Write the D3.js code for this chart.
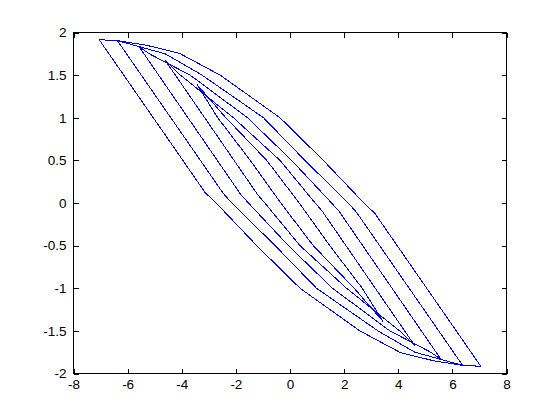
<!DOCTYPE html>
<html>
<head>
<meta charset="utf-8">
<script src="https://cdn.jsdelivr.net/npm/d3@7"></script>
<style>
  html, body { margin: 0; padding: 0; background: #fff; }
  svg { display: block; }
  .tick text { font-family: "Liberation Sans", Arial, sans-serif; font-size: 13.5px; fill: #000; }
</style>
</head>
<body>
<svg id="chart" width="560" height="420"></svg>
<script>
// Tick values
const xTicks = [-8, -6, -4, -2, 0, 2, 4, 6, 8];
const yTicks = [-2, -1.5, -1, -0.5, 0, 0.5, 1, 1.5, 2];

// Loop 1 (outermost)
const loop1Upper = [[-7.05,1.915],[-6.38,1.905],[-5.3,1.85],[-4.08,1.755],[-2.58,1.5],[-0.37,1.0],[1.23,0.5],[2.73,0],[3.13,-0.12],[7.05,-1.915]];
const loop1Lower = [[-7.05,1.915],[-3.13,0.12],[-2.73,0],[-1.23,-0.5],[0.37,-1.0],[2.58,-1.5],[4.08,-1.755],[5.3,-1.85],[6.38,-1.905],[7.05,-1.915]];
// Loop 2
const loop2Upper = [[-6.38,1.905],[-4.61,1.75],[-3.25,1.5],[-0.98,1.0],[0.55,0.5],[2.15,0],[2.46,-0.11],[6.38,-1.905]];
const loop2Lower = [[-6.38,1.905],[-2.46,0.11],[-2.15,0],[-0.55,-0.5],[0.98,-1.0],[3.25,-1.5],[4.61,-1.75],[6.38,-1.905]];
// Loop 3
const loop3Upper = [[-5.58,1.835],[-5.2,1.75],[-3.69,1.5],[-1.57,1.0],[0.06,0.5],[1.535,0],[1.82,-0.1],[5.58,-1.835]];
const loop3Lower = [[-5.58,1.835],[-1.82,0.1],[-1.535,0],[-0.06,-0.5],[1.57,-1.0],[3.69,-1.5],[5.2,-1.75],[5.58,-1.835]];
// Loop 4
const loop4Upper = [[-4.62,1.677],[-4.05,1.5],[-2.09,1.0],[-0.37,0.5],[0.93,0],[1.2,-0.1],[4.62,-1.677]];
const loop4Lower = [[-4.62,1.677],[-1.2,0.1],[-0.93,0],[0.37,-0.5],[2.09,-1.0],[4.05,-1.5],[4.62,-1.677]];
// Loop 5 (innermost)
const loop5Upper = [[-3.44,1.39],[-2.37,1.0],[-0.86,0.5],[0.34,0],[1.47,-0.5],[2.67,-1.0],[3.44,-1.39]];
const loop5Lower = [[-3.44,1.39],[-2.67,1.0],[-1.47,0.5],[-0.34,0],[0.86,-0.5],[2.37,-1.0],[3.44,-1.39]];

const curves = [loop1Upper, loop1Lower, loop2Upper, loop2Lower, loop3Upper, loop3Lower,
                loop4Upper, loop4Lower, loop5Upper, loop5Lower];

const svg = d3.select("#chart");
const L = 73.5, R = 506.5, T = 32.5, B = 373.5;
const x = d3.scaleLinear().domain([-8, 8]).range([L, R]);
const y = d3.scaleLinear().domain([-2, 2]).range([B, T]);

svg.append("rect").attr("width", 560).attr("height", 420).attr("fill", "#fff");

const fmt = d => String(d);

const gB = svg.append("g").attr("transform", `translate(0,${B})`)
  .call(d3.axisBottom(x).tickValues(xTicks).tickFormat(fmt).tickSizeInner(-5).tickSizeOuter(0).tickPadding(6));
const gT = svg.append("g").attr("transform", `translate(0,${T})`)
  .call(d3.axisTop(x).tickValues(xTicks).tickFormat("").tickSizeInner(-5).tickSizeOuter(0));
const gL = svg.append("g").attr("transform", `translate(${L},0)`)
  .call(d3.axisLeft(y).tickValues(yTicks).tickFormat(fmt).tickSizeInner(-5).tickSizeOuter(0).tickPadding(7));
const gR = svg.append("g").attr("transform", `translate(${R},0)`)
  .call(d3.axisRight(y).tickValues(yTicks).tickFormat("").tickSizeInner(-5).tickSizeOuter(0));

[gB, gT, gL, gR].forEach(g => {
  g.selectAll(".domain").remove();
  g.selectAll(".tick line").attr("stroke", "#000").attr("shape-rendering", "crispEdges");
  g.attr("font-family", null).attr("font-size", null);
});

svg.append("rect").attr("x", L).attr("y", T).attr("width", R - L).attr("height", B - T)
  .attr("fill", "none").attr("stroke", "#000").attr("stroke-width", 1).attr("shape-rendering", "crispEdges");

const line = d3.line().x(d => x(d[0])).y(d => y(d[1]));
svg.append("g").selectAll("path").data(curves).join("path")
  .attr("d", line)
  .attr("fill", "none")
  .attr("stroke", "#0000dd")
  .attr("stroke-width", 1)
  .attr("shape-rendering", "crispEdges");
</script>
</body>
</html>
